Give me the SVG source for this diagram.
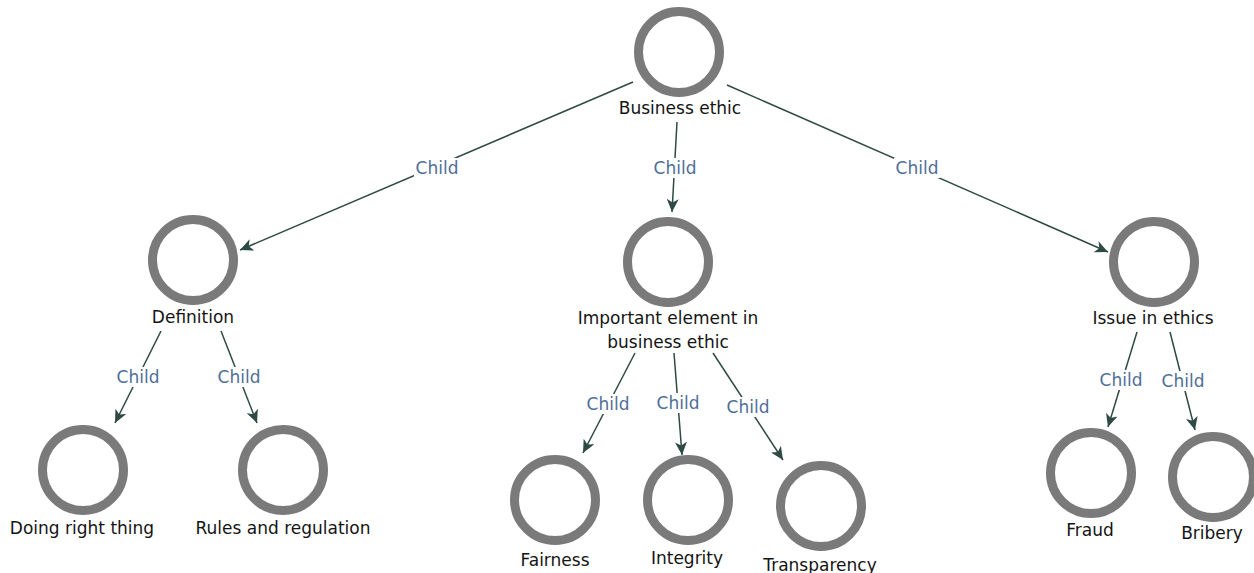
<svg xmlns="http://www.w3.org/2000/svg" width="1254" height="573" viewBox="0 0 1254 573">
  <style>
    .ring { fill: #ffffff; stroke: #7a7a7a; stroke-width: 9; }
    .lbl { font-family: "DejaVu Sans", "Liberation Sans", sans-serif; font-size: 17px; fill: #141414; text-anchor: middle; }
    .edge { stroke: #2f4a44; stroke-width: 1.5; fill: none; marker-end: url(#arr); }
    .elbl { font-family: "DejaVu Sans", "Liberation Sans", sans-serif; font-size: 17px; fill: #4f6e98; text-anchor: middle; }
    .ebg { fill: #ffffff; }
  </style>
  <defs>
    <marker id="arr" markerWidth="14" markerHeight="12" refX="13" refY="6" orient="auto" markerUnits="userSpaceOnUse">
      <path d="M0,0 L13,6 L0,12 L3.5,6 z" fill="#2f4a44"/>
    </marker>
  </defs>
  <rect width="1254" height="573" fill="#ffffff"/>

  <g id="connectors">
    <line class="edge" x1="633" y1="82" x2="240" y2="250"/>
    <line class="edge" x1="677" y1="122" x2="672" y2="212"/>
    <line class="edge" x1="727" y1="85" x2="1108" y2="252"/>
    <line class="edge" x1="161" y1="331" x2="115" y2="423"/>
    <line class="edge" x1="221" y1="331" x2="257" y2="423"/>
    <line class="edge" x1="635" y1="353" x2="583" y2="453"/>
    <line class="edge" x1="674" y1="353" x2="682" y2="455"/>
    <line class="edge" x1="713" y1="353" x2="783" y2="460"/>
    <line class="edge" x1="1137" y1="332" x2="1108" y2="427"/>
    <line class="edge" x1="1170" y1="332" x2="1195" y2="430"/>
    <rect class="ebg" x="414" y="158" width="46" height="20"/>
    <text class="elbl" x="437" y="174">Child</text>
    <rect class="ebg" x="652" y="158" width="46" height="20"/>
    <text class="elbl" x="675" y="174">Child</text>
    <rect class="ebg" x="894" y="158" width="46" height="20"/>
    <text class="elbl" x="917" y="174">Child</text>
    <rect class="ebg" x="115" y="367" width="46" height="20"/>
    <text class="elbl" x="138" y="383">Child</text>
    <rect class="ebg" x="216" y="367" width="46" height="20"/>
    <text class="elbl" x="239" y="383">Child</text>
    <rect class="ebg" x="585" y="394" width="46" height="20"/>
    <text class="elbl" x="608" y="410">Child</text>
    <rect class="ebg" x="655" y="393" width="46" height="20"/>
    <text class="elbl" x="678" y="409">Child</text>
    <rect class="ebg" x="725" y="397" width="46" height="20"/>
    <text class="elbl" x="748" y="413">Child</text>
    <rect class="ebg" x="1098" y="370" width="46" height="20"/>
    <text class="elbl" x="1121" y="386">Child</text>
    <rect class="ebg" x="1160" y="371" width="46" height="20"/>
    <text class="elbl" x="1183" y="387">Child</text>
  </g>

  <g id="n-business-ethic">
    <circle class="ring" cx="679" cy="52" r="40.5"/>
    <text class="lbl" x="680" y="114">Business ethic</text>
  </g>
  <g id="n-definition">
    <circle class="ring" cx="193" cy="260" r="40.5"/>
    <text class="lbl" x="193" y="323">Definition</text>
  </g>
  <g id="n-important">
    <circle class="ring" cx="668" cy="262" r="40.5"/>
    <text class="lbl" x="668" y="324">Important element in</text>
    <text class="lbl" x="668" y="348">business ethic</text>
  </g>
  <g id="n-issue">
    <circle class="ring" cx="1154" cy="262" r="40.5"/>
    <text class="lbl" x="1153" y="324">Issue in ethics</text>
  </g>
  <g id="n-doing">
    <circle class="ring" cx="83" cy="470" r="40.5"/>
    <text class="lbl" x="82" y="534">Doing right thing</text>
  </g>
  <g id="n-rules">
    <circle class="ring" cx="283" cy="470" r="40.5"/>
    <text class="lbl" x="283" y="534">Rules and regulation</text>
  </g>
  <g id="n-fairness">
    <circle class="ring" cx="555" cy="500" r="40.5"/>
    <text class="lbl" x="555" y="566">Fairness</text>
  </g>
  <g id="n-integrity">
    <circle class="ring" cx="688" cy="500" r="40.5"/>
    <text class="lbl" x="687" y="564">Integrity</text>
  </g>
  <g id="n-transparency">
    <circle class="ring" cx="821" cy="506" r="40.5"/>
    <text class="lbl" x="820" y="571">Transparency</text>
  </g>
  <g id="n-fraud">
    <circle class="ring" cx="1091" cy="473" r="40.5"/>
    <text class="lbl" x="1090" y="536">Fraud</text>
  </g>
  <g id="n-bribery">
    <circle class="ring" cx="1213" cy="477" r="40.5"/>
    <text class="lbl" x="1212" y="539">Bribery</text>
  </g>
</svg>
